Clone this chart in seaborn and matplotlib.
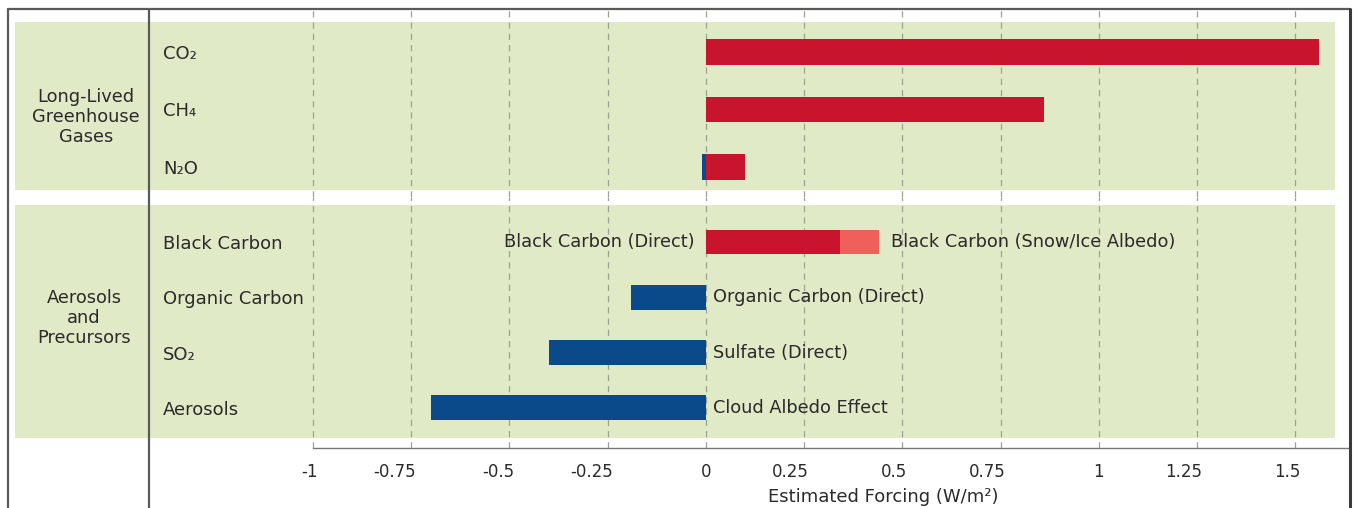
import numpy as np
import pandas as pd
import matplotlib
matplotlib.use("Agg")
import matplotlib.pyplot as plt
import seaborn as sns
from matplotlib.patches import Rectangle
from matplotlib.lines import Line2D
from matplotlib.transforms import blended_transform_factory, ScaledTranslation

# ---------------- data ----------------
gas_labels = ["CO₂", "CH₄", "N₂O"]
gas_values = [1.56, 0.86, 0.10]
n2o_negative = -0.01
aerosol_labels = ["Black Carbon", "Organic Carbon", "SO₂", "Aerosols"]
aerosol_values = [0.34, -0.19, -0.40, -0.70]
bc_snow_ice = 0.10
effect_labels = ["Black Carbon (Direct)", "Organic Carbon (Direct)",
                 "Sulfate (Direct)", "Cloud Albedo Effect"]
snow_label = "Black Carbon (Snow/Ice Albedo)"
group_labels = ["Long-Lived\nGreenhouse\nGases", "Aerosols\nand\nPrecursors"]
xticks = [-1, -0.75, -0.5, -0.25, 0, 0.25, 0.5, 0.75, 1, 1.25, 1.5]
xtick_labels = ["-1", "-0.75", "-0.5", "-0.25", "0", "0.25", "0.5",
                "0.75", "1", "1.25", "1.5"]
xlabel = "Estimated Forcing (W/m²)"

# ---------------- style ----------------
RED = "#C8152D"
LIGHT_RED = "#F0605A"
BLUE = "#0A4A8A"
GREEN = "#E0EAC6"
TXT = "#2a2a2a"
FRAME = "#5a5a5a"
GRID = "#9ca290"

sns.set_theme(style="white")
plt.rcParams["font.family"] = ["DejaVu Sans"]
plt.rcParams["axes.unicode_minus"] = False

W, H = 1357, 508
fig = plt.figure(figsize=(W / 100, H / 100), dpi=100)
fig.patch.set_facecolor("white")

def fx(px):
    return px / W

def fy(py):
    return 1 - py / H

# pixel layout
AX_L, AX_R = 149, 1350
ZERO_PX, UNIT_PX = 706, 393.0
xlim = ((AX_L - ZERO_PX) / UNIT_PX, (AX_R - ZERO_PX) / UNIT_PX)

ax_top = fig.add_axes([fx(AX_L), fy(197), (AX_R - AX_L) / W, (197 - 9) / H])
ax_bot = fig.add_axes([fx(AX_L), fy(448), (AX_R - AX_L) / W, (448 - 197) / H])

# ---------------- bars ----------------
df_gas = pd.DataFrame({"label": gas_labels, "value": gas_values})
df_aer = pd.DataFrame({"label": aerosol_labels, "value": aerosol_values})

def col(v):
    return RED if v > 0 else BLUE

sns.barplot(data=df_gas, x="value", y="label", hue="label", orient="h",
            palette={l: col(v) for l, v in zip(gas_labels, gas_values)},
            saturation=1, width=0.435, legend=False, ax=ax_top,
            linewidth=0, zorder=3)
sns.barplot(x=[n2o_negative], y=[gas_labels[2]], order=gas_labels, orient="h",
            color=BLUE, saturation=1, width=0.435, ax=ax_top, linewidth=0,
            zorder=3)

sns.barplot(x=[aerosol_values[0] + bc_snow_ice], y=[aerosol_labels[0]],
            order=aerosol_labels, orient="h", color=LIGHT_RED, saturation=1,
            width=0.45, ax=ax_bot, linewidth=0, zorder=3)
sns.barplot(data=df_aer, x="value", y="label", hue="label", orient="h",
            palette={l: col(v) for l, v in zip(aerosol_labels, aerosol_values)},
            saturation=1, width=0.45, legend=False, ax=ax_bot,
            linewidth=0, zorder=3)

# ---------------- axes cosmetics ----------------
ax_top.set_ylim((197 - 52) / 57.5, (9 - 52) / 57.5)
ax_bot.set_ylim((448 - 242) / 55.3, (197 - 242) / 55.3)

panels = [(ax_top, (22 - 52) / 57.5, (190 - 52) / 57.5),
          (ax_bot, (205 - 242) / 55.3, (438 - 242) / 55.3)]

for ax in (ax_top, ax_bot):
    ax.set_xlim(*xlim)
    ax.set_facecolor("none")
    for s in ax.spines.values():
        s.set_visible(False)
    ax.set_xlabel("")
    ax.set_ylabel("")
    ax.set_xticks(xticks)
    ax.grid(axis="x", color=GRID, linestyle=(0, (5, 4)), linewidth=0.9,
            zorder=1)
    ax.grid(axis="y", visible=False)
    ax.tick_params(axis="y", length=0, pad=-10, labelsize=13,
                   labelcolor=TXT)
    for t in ax.get_yticklabels():
        t.set_horizontalalignment("left")

for ax, y0, y1 in panels:
    tr = blended_transform_factory(ax.transAxes, ax.transData)
    a0 = (15 - AX_L) / (AX_R - AX_L)
    a1 = (1335 - AX_L) / (AX_R - AX_L)
    ax.add_patch(Rectangle((a0, y0), a1 - a0, y1 - y0, transform=tr,
                           facecolor=GREEN, edgecolor="none", zorder=0,
                           clip_on=False))

ax_top.tick_params(axis="x", length=0, labelbottom=False)
ax_bot.set_xticklabels(xtick_labels)
ax_bot.tick_params(axis="x", direction="in", length=5, width=1,
                   color=GRID, pad=11, labelsize=12, labelcolor=TXT)
shift = ScaledTranslation(5 / 100, 0, fig.dpi_scale_trans)
for t in ax_bot.get_xticklabels():
    t.set_horizontalalignment("right")
    t.set_transform(t.get_transform() + shift)
ax_bot.spines["bottom"].set_visible(True)
ax_bot.spines["bottom"].set_color("#777777")
ax_bot.spines["bottom"].set_linewidth(1.0)
ax_bot.spines["bottom"].set_bounds(-1, xlim[1])
ax_bot.set_xlabel(xlabel, fontsize=13, color=TXT)
ax_bot.xaxis.set_label_coords((883 - AX_L) / (AX_R - AX_L),
                              (448 - 497) / (448 - 197))
ax_bot.xaxis.label.set_verticalalignment("center")

# ---------------- annotations ----------------
ax_bot.annotate(effect_labels[0], xy=(0, 0), xytext=(-8, 0),
                textcoords="offset points", ha="right", va="center",
                fontsize=12.8, color=TXT)
ax_bot.annotate(snow_label, xy=(aerosol_values[0] + bc_snow_ice, 0),
                xytext=(9, 0), textcoords="offset points", ha="left",
                va="center", fontsize=12.8, color=TXT)
for i in range(1, 4):
    ax_bot.annotate(effect_labels[i], xy=(0, i), xytext=(5, 0),
                    textcoords="offset points", ha="left", va="center",
                    fontsize=12.8, color=TXT)

fig.text(fx(86), fy(117), group_labels[0], ha="center", va="center",
         fontsize=12.8, color=TXT, linespacing=1.15)
fig.text(fx(84), fy(318), group_labels[1], ha="center", va="center",
         fontsize=12.8, color=TXT, linespacing=1.15)

# frame lines
fig.add_artist(Line2D([fx(8), fx(8)], [fy(9), 0], color=FRAME, lw=1.6))
fig.add_artist(Line2D([fx(8), fx(1350)], [fy(9), fy(9)], color=FRAME, lw=1.6))
fig.add_artist(Line2D([fx(1350), fx(1350)], [fy(9), 0], color="#3a3a3a", lw=2.2))
fig.add_artist(Line2D([fx(149), fx(149)], [fy(9), 0], color=FRAME, lw=1.6))

fig.savefig("out.png", dpi=100, facecolor="white")
